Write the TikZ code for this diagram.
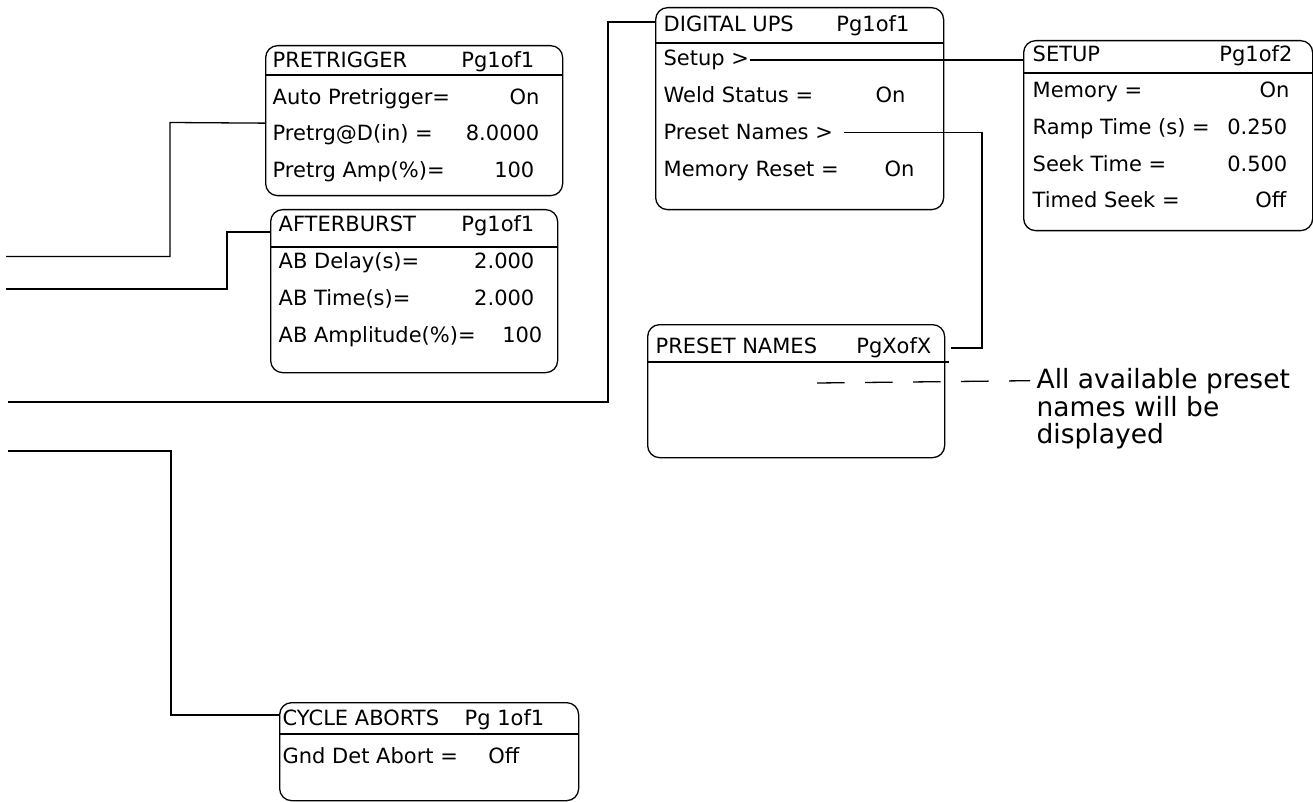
\documentclass[tikz,border=0pt]{standalone}
\usepackage{fontspec}
\setmainfont{DejaVu Sans}
\begin{document}
\begin{tikzpicture}[x=1pt,y=-1pt,
  line width=1.3pt,
  box/.style={draw, rounded corners=12pt, inner sep=0pt, anchor=north west},
  lbl/.style={inner sep=0pt, anchor=base west, font=\fontsize{21}{24}\selectfont},
  val/.style={inner sep=0pt, anchor=base east, font=\fontsize{21}{24}\selectfont},
  note/.style={inner sep=0pt, anchor=base west, font=\fontsize{26.5}{28}\selectfont},
  conn/.style={draw, line width=1.3pt},
  dashconn/.style={draw, line width=1.3pt, dash pattern=on 27.5pt off 20.5pt}]
\useasboundingbox (0,0) rectangle (1313,802);

% ---------- boxes ----------
\node[box, minimum width=297pt, minimum height=150pt] (pre) at (265,45) {};
\node[box, minimum width=287pt, minimum height=163pt] (ab) at (270,209) {};
\node[box, minimum width=288pt, minimum height=202pt] (dig) at (655,7) {};
\node[box, minimum width=289pt, minimum height=190pt] (setup) at (1023,40) {};
\node[box, minimum width=297pt, minimum height=133pt] (pn) at (647,324) {};
\node[box, minimum width=299pt, minimum height=98pt] (cyc) at (279,702) {};

% header lines
\draw (pre.west |- 0,75) -- (pre.east |- 0,75);
\draw (ab.west |- 0,247) -- (ab.east |- 0,247);
\draw (dig.west |- 0,43) -- (dig.east |- 0,43);
\draw (setup.west |- 0,73) -- (setup.east |- 0,73);
\draw (pn.west |- 0,362) -- ([xshift=4pt]pn.east |- 0,362);
\draw (cyc.west |- 0,734) -- (cyc.east |- 0,734);

% ---------- PRETRIGGER ----------
\node[lbl] (pret) at (272,68) {PRETRIGGER};
\node[val] (prepg) at (535,68) {Pg1of1};
\node[lbl] (pre1) at (272,105) {Auto Pretrigger=};
\node[val] (pre1v) at (540,105) {On};
\node[lbl] (pre2) at (272,141) {Pretrg@D(in) =};
\node[val] (pre2v) at (540,141) {8.0000};
\node[lbl] (pre3) at (272,178) {Pretrg Amp(\%)=};
\node[val] (pre3v) at (535,178) {100};

% ---------- AFTERBURST ----------
\node[lbl] (abt) at (278,232) {AFTERBURST};
\node[val] (abpg) at (535,232) {Pg1of1};
\node[lbl] (ab1) at (278,268) {AB Delay(s)=};
\node[val] (ab1v) at (535,268) {2.000};
\node[lbl] (ab2) at (278,305) {AB Time(s)=};
\node[val] (ab2v) at (535,305) {2.000};
\node[lbl] (ab3) at (278,342) {AB Amplitude(\%)=};
\node[val] (ab3v) at (543,342) {100};

% ---------- DIGITAL UPS ----------
\node[lbl] (digt) at (663,32) {DIGITAL UPS};
\node[val] (digpg) at (910,32) {Pg1of1};
\node[lbl] (dsetup) at (663,66) {Setup >};
\node[lbl] (dweld) at (663,103) {Weld Status =};
\node[val] (dweldv) at (906,103) {On};
\node[lbl] (dpn) at (663,140) {Preset Names >};
\node[lbl] (dmem) at (663,177) {Memory Reset =};
\node[val] (dmemv) at (915,177) {On};

% ---------- SETUP ----------
\node[lbl] (sett) at (1032,62) {SETUP};
\node[val] (setpg) at (1293,62) {Pg1of2};
\node[lbl] (set1) at (1032,98) {Memory =};
\node[val] (set1v) at (1290,98) {On};
\node[lbl] (set2) at (1032,135) {Ramp Time (s) =};
\node[val] (set2v) at (1288,135) {0.250};
\node[lbl] (set3) at (1032,172) {Seek Time =};
\node[val] (set3v) at (1288,172) {0.500};
\node[lbl] (set4) at (1032,208) {Timed Seek =};
\node[val] (set4v) at (1287,208) {Off};

% ---------- PRESET NAMES ----------
\node[lbl] (pnt) at (655,353) {PRESET NAMES};
\node[val] (pnpg) at (932,353) {PgXofX};

% ---------- CYCLE ABORTS ----------
\node[lbl] (cyct) at (282,725) {CYCLE ABORTS};
\node[val] (cycpg) at (545,725) {Pg 1of1};
\node[lbl] (cyc1) at (282,763) {Gnd Det Abort =};
\node[val] (cyc1v) at (520,763) {Off};

% ---------- annotation ----------
\node[note] (note1) at (1036,388) {All available preset};
\node[note] (note2) at (1036,416) {names will be};
\node[note] (note3) at (1036,443.5) {displayed};

% ---------- connectors ----------
\coordinate (a1) at (6,256.5);
\coordinate (a2) at (6,289);
\coordinate (a3) at (8,402);
\coordinate (a4) at (8,451);
\draw[conn] (a1) -| (170,122.5) -- ([yshift=-2.5pt]pre.west);
\draw[conn] (a2) -| (227,232) -- ([yshift=-23pt]ab.north west);
\draw[conn] (a3) -| (608,22) -- ([yshift=-15pt]dig.north west);
\draw[conn] (a4) -| (171,715) -- ([yshift=-13pt]cyc.north west);
\coordinate (setupend) at ([yshift=0.5pt]dsetup.east -| setup.west);
\draw[conn] ([yshift=0.5pt]dsetup.east) -- (setupend);
\coordinate (pnend) at (951,348);
\draw[conn] ([xshift=10pt]dpn.east) -| (982,348) -- (pnend);
\coordinate (dstart) at (817,383);
\draw[dashconn] (dstart) -- ([xshift=-6pt]note1.west);
\end{tikzpicture}
\end{document}
